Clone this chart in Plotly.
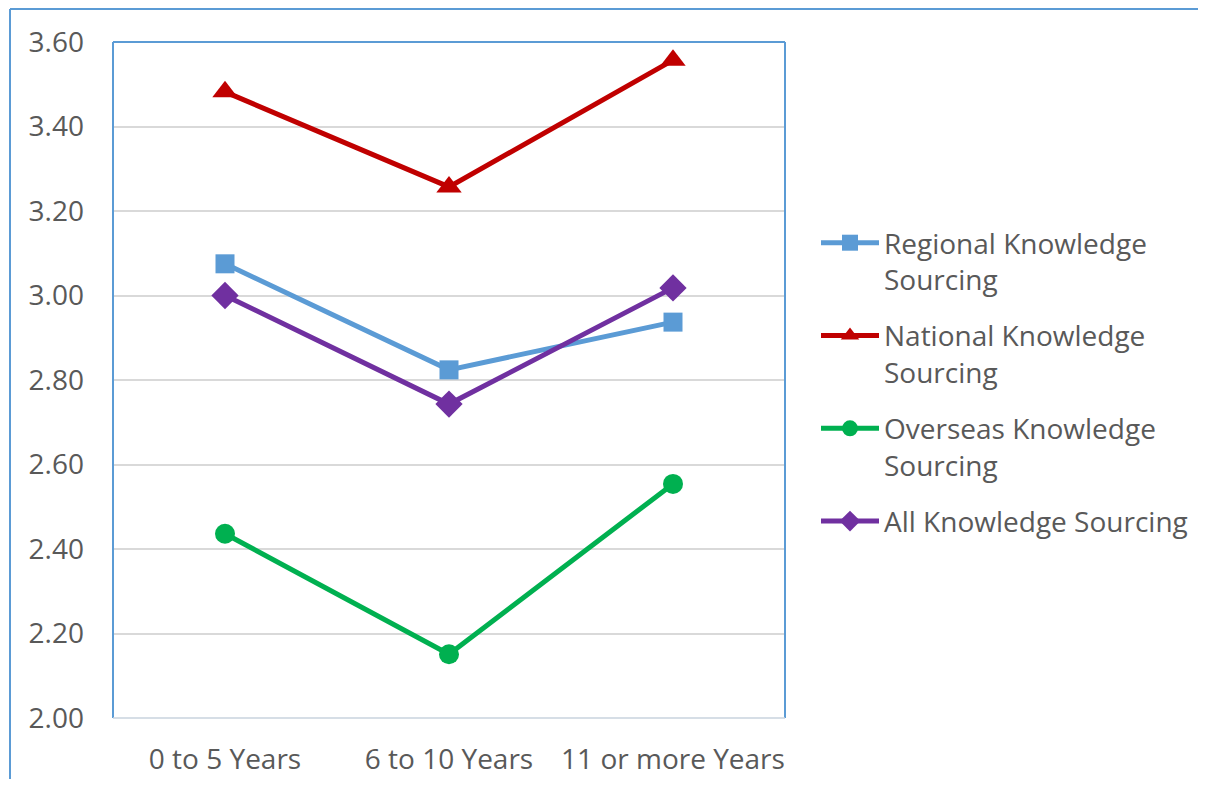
import plotly.graph_objects as go

categories = ["0 to 5 Years", "6 to 10 Years", "11 or more Years"]

regional = [3.075, 2.824, 2.937]
national = [3.482, 3.257, 3.557]
overseas = [2.436, 2.151, 2.554]
all_sourcing = [3.000, 2.743, 3.018]

series_names = [
    "Regional Knowledge<br>Sourcing",
    "National Knowledge<br>Sourcing",
    "Overseas Knowledge<br>Sourcing",
    "All Knowledge Sourcing",
]

y_ticks = [2.0, 2.2, 2.4, 2.6, 2.8, 3.0, 3.2, 3.4, 3.6]

FONT = "Open Sans"
FS = 28
TXT = "#595959"
BORDER = "#5B9BD5"

styles = [
    ("#5B9BD5", "square", 19),
    ("#C00000", "triangle-up", 22),
    ("#00B050", "circle", 20),
    ("#7030A0", "diamond", 21),
]

fig = go.Figure()
for i, (vals, name, (col, sym, size)) in enumerate(zip(
    [regional, national, overseas, all_sourcing], series_names, styles
)):
    fig.add_trace(go.Scatter(
        x=categories, y=vals, name=name, mode="lines+markers",
        legendgroup=f"g{i}",
        line=dict(color=col, width=5),
        marker=dict(symbol=sym, size=size, color=col),
    ))

# page has an 8px body margin; coordinates below are page pixels
OFF = 8
L, R, T, B = 113 - OFF, 785 - OFF, 42 - OFF, 718 - OFF
W, H = 1190, 771
pw, ph = R - L, B - T


def px(x):
    return (x - OFF - L) / pw


def py(y):
    return (B - (y - OFF)) / ph


shapes = [
    # plot frame
    dict(type="line", xref="paper", yref="paper", x0=0, x1=0, y0=0, y1=1,
         line=dict(color=BORDER, width=2)),
    dict(type="line", xref="paper", yref="paper", x0=0, x1=1, y0=1, y1=1,
         line=dict(color=BORDER, width=2)),
    dict(type="line", xref="paper", yref="paper", x0=1, x1=1, y0=0, y1=1,
         line=dict(color=BORDER, width=2)),
    dict(type="line", xref="paper", yref="paper", x0=0, x1=1, y0=0, y1=0,
         line=dict(color="#C9D3DE", width=1.5)),
    # outer chart border (left and top)
    dict(type="line", xref="paper", yref="paper", x0=px(10), x1=px(10),
         y0=py(9), y1=py(800), line=dict(color=BORDER, width=2)),
    dict(type="line", xref="paper", yref="paper", x0=px(10), x1=px(1220),
         y0=py(9), y1=py(9), line=dict(color=BORDER, width=2)),
]

fig.update_layout(
    width=W, height=H,
    margin=dict(l=L, r=W - R, t=T, b=H - B, pad=0, autoexpand=False),
    paper_bgcolor="white", plot_bgcolor="white",
    font=dict(family=FONT, size=FS, color=TXT),
    showlegend=True,
    legend=dict(
        x=px(816), xanchor="left", y=py(218), yanchor="top",
        itemwidth=58, valign="top", traceorder="grouped", tracegroupgap=17,
        font=dict(family=FONT, size=FS, color=TXT),
        bgcolor="rgba(0,0,0,0)",
    ),
    shapes=shapes,
)
fig.update_xaxes(
    type="category", range=[-0.5, 2.5], showgrid=False, zeroline=False,
    showline=False, ticks="", ticklabelstandoff=22, automargin=False,
    tickfont=dict(family=FONT, size=FS, color=TXT),
)
fig.update_yaxes(
    range=[2.0, 3.6], tickvals=y_ticks, tickformat=".2f",
    showgrid=True, gridcolor="#D9D9D9", gridwidth=1.5, zeroline=False,
    showline=False, ticks="", ticklabelstandoff=28, automargin=False,
    tickfont=dict(family=FONT, size=FS, color=TXT),
)

fig.write_html("out.html")
